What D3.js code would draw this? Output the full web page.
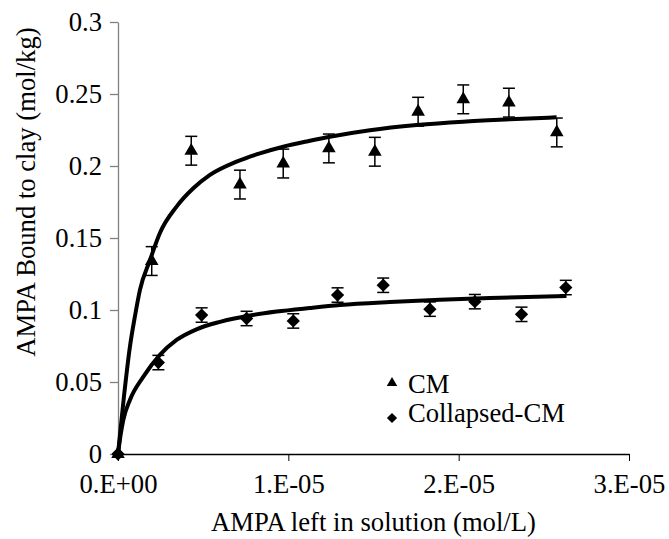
<!DOCTYPE html>
<html>
<head>
<meta charset="utf-8">
<script src="https://cdn.jsdelivr.net/npm/d3@7"></script>
<style>
  html, body { margin: 0; padding: 0; background: #fff; }
  #chart { width: 669px; height: 539px; }
  svg text { font-family: "Liberation Serif", "DejaVu Serif", serif; fill: #000; }
</style>
</head>
<body>
<div id="chart"></div>
<script>
// data (x in mol/L, y in mol/kg)
const cmX = [0, 0.198e-5, 0.43e-5, 0.716e-5, 0.97e-5, 1.238e-5, 1.508e-5, 1.762e-5, 2.027e-5, 2.295e-5, 2.576e-5];
const cmY = [0, 0.134, 0.2106, 0.1871, 0.2017, 0.2122, 0.2099, 0.2377, 0.2463, 0.244, 0.2233];
const cmErr = [0, 0.01, 0.01, 0.01, 0.01, 0.01, 0.01, 0.01, 0.01, 0.01, 0.01];

const colX = [0, 0.237e-5, 0.491e-5, 0.755e-5, 1.029e-5, 1.289e-5, 1.557e-5, 1.831e-5, 2.095e-5, 2.369e-5, 2.629e-5];
const colY = [0, 0.0635, 0.0965, 0.0941, 0.0924, 0.1104, 0.1172, 0.1006, 0.1058, 0.097, 0.1156];
const colErr = [0, 0.005, 0.005, 0.005, 0.005, 0.005, 0.005, 0.005, 0.005, 0.005, 0.005];

// fitted curves
const cmFitX = [0, 0.035e-5, 0.07e-5, 0.1e-5, 0.129e-5, 0.188e-5, 0.246e-5, 0.344e-5, 0.442e-5, 0.54e-5, 0.696e-5, 0.833e-5, 0.97e-5, 1.127e-5, 1.244e-5, 1.479e-5, 1.753e-5, 2.026e-5, 2.3e-5, 2.575e-5];
const cmFitY = [0, 0.04, 0.0745, 0.096, 0.114, 0.1347, 0.1535, 0.1718, 0.1845, 0.1938, 0.203, 0.2088, 0.2134, 0.2175, 0.2203, 0.2248, 0.2284, 0.2308, 0.2324, 0.2338];

const colFitX = [0, 0.015e-5, 0.031e-5, 0.07e-5, 0.149e-5, 0.246e-5, 0.344e-5, 0.461e-5, 0.599e-5, 0.775e-5, 0.931e-5, 1.127e-5, 1.303e-5, 1.596e-5, 1.89e-5, 2.183e-5, 2.633e-5];
const colFitY = [0, 0.013, 0.0236, 0.0375, 0.0537, 0.0688, 0.0792, 0.0866, 0.0918, 0.0962, 0.0989, 0.1014, 0.1034, 0.1055, 0.1071, 0.1083, 0.1097];

const xTicks = [0, 1e-5, 2e-5, 3e-5];
const xTickLabels = ["0.E+00", "1.E-05", "2.E-05", "3.E-05"];
const yTicks = [0, 0.05, 0.1, 0.15, 0.2, 0.25, 0.3];
const yTickLabels = ["0", "0.05", "0.1", "0.15", "0.2", "0.25", "0.3"];

const seriesNames = ["CM", "Collapsed-CM"];

////////////////////////////  Init  ///////////////////////////////
const width = 669;
const height = 539;
const margin = { top: 22, right: 40, bottom: 85, left: 118 };
const fontSize = 26.67;
const serif = "'Liberation Serif', 'DejaVu Serif', serif";

const svg = d3.select("#chart").append("svg")
  .attr("width", width)
  .attr("height", height);

const x = d3.scaleLinear()
  .domain([0, 3e-5])
  .range([margin.left, width - margin.right]);
const y = d3.scaleLinear()
  .domain([0, 0.3])
  .range([height - margin.bottom, margin.top]);

// axes
const xAxis = d3.axisBottom(x)
  .tickValues(xTicks)
  .tickFormat((d, i) => xTickLabels[i])
  .tickSize(7)
  .tickSizeOuter(0)
  .tickPadding(13);
const yAxis = d3.axisLeft(y)
  .tickValues(yTicks)
  .tickFormat((d, i) => yTickLabels[i])
  .tickSize(8)
  .tickSizeOuter(0)
  .tickPadding(8);

const gx = svg.append("g")
  .attr("transform", `translate(0, ${y(0)})`)
  .call(xAxis);
gx.attr("font-family", null).attr("font-size", null);
gx.select(".domain").attr("stroke", "#000").attr("stroke-width", 1.3);
gx.selectAll(".tick line").attr("stroke", "#000").attr("stroke-width", 1);
gx.selectAll(".tick text")
  .style("font-size", fontSize + "px")
  .style("font-family", serif)
  .attr("fill", "#000");

const gy = svg.append("g")
  .attr("transform", `translate(${margin.left}, 0)`)
  .call(yAxis);
gy.attr("font-family", null).attr("font-size", null);
gy.select(".domain").attr("stroke", "#808080").attr("stroke-width", 1.3);
gy.selectAll(".tick line").attr("stroke", "#808080").attr("stroke-width", 1.3);
gy.selectAll(".tick text")
  .style("font-size", fontSize + "px")
  .style("font-family", serif)
  .attr("fill", "#000");

// axis titles
svg.append("text")
  .attr("x", (x(0) + x(3e-5)) / 2)
  .attr("y", 531)
  .attr("text-anchor", "middle")
  .style("font-size", fontSize + "px")
  .style("font-family", serif)
  .text("AMPA left in solution (mol/L)");

svg.append("text")
  .attr("transform", `translate(35, 192) rotate(-90)`)
  .attr("text-anchor", "middle")
  .style("font-size", fontSize + "px")
  .style("font-family", serif)
  .text("AMPA Bound to clay (mol/kg)");

// fitted curves
const line = d3.line()
  .x((d) => x(d[0]))
  .y((d) => y(d[1]))
  .curve(d3.curveMonotoneX);

svg.append("path")
  .datum(d3.zip(cmFitX, cmFitY))
  .attr("d", line)
  .attr("fill", "none")
  .attr("stroke", "#000")
  .attr("stroke-width", 4);

svg.append("path")
  .datum(d3.zip(colFitX, colFitY))
  .attr("d", line)
  .attr("fill", "none")
  .attr("stroke", "#000")
  .attr("stroke-width", 4);

// error bars + markers
const cap = 6;
function drawSeries(xs, ys, errs, symbolPath, rotate) {
  const data = xs.map((d, i) => ({ x: d, y: ys[i], e: errs[i] }));
  const g = svg.append("g");
  const eb = g.selectAll(".err").data(data.filter((d) => d.e > 0)).enter().append("g");
  eb.append("line")
    .attr("x1", (d) => x(d.x)).attr("x2", (d) => x(d.x))
    .attr("y1", (d) => y(d.y - d.e)).attr("y2", (d) => y(d.y + d.e));
  eb.append("line")
    .attr("x1", (d) => x(d.x) - cap).attr("x2", (d) => x(d.x) + cap)
    .attr("y1", (d) => y(d.y + d.e)).attr("y2", (d) => y(d.y + d.e));
  eb.append("line")
    .attr("x1", (d) => x(d.x) - cap).attr("x2", (d) => x(d.x) + cap)
    .attr("y1", (d) => y(d.y - d.e)).attr("y2", (d) => y(d.y - d.e));
  eb.selectAll("line").attr("stroke", "#000").attr("stroke-width", 1.5);

  g.selectAll(".pt").data(data).enter().append("path")
    .attr("d", symbolPath)
    .attr("transform", (d) => `translate(${x(d.x)}, ${y(d.y)}) rotate(${rotate})`)
    .attr("fill", "#000");
}

const triangle = d3.symbol().type(d3.symbolTriangle).size(80)();
const diamond = d3.symbol().type(d3.symbolSquare).size(88)();

drawSeries(cmX, cmY, cmErr, triangle, 0);
drawSeries(colX, colY, colErr, diamond, 45);

// legend
const legend = svg.append("g");
legend.append("path")
  .attr("d", d3.symbol().type(d3.symbolTriangle).size(48)())
  .attr("transform", "translate(392, 383)");
legend.append("path")
  .attr("d", d3.symbol().type(d3.symbolSquare).size(52)())
  .attr("transform", "translate(392, 418) rotate(45)");
legend.selectAll(".lbl").data(seriesNames).enter().append("text")
  .attr("x", 408)
  .attr("y", (d, i) => 393 + i * 29)
  .style("font-size", fontSize + "px")
  .style("font-family", serif)
  .text((d) => d);
</script>
</body>
</html>
